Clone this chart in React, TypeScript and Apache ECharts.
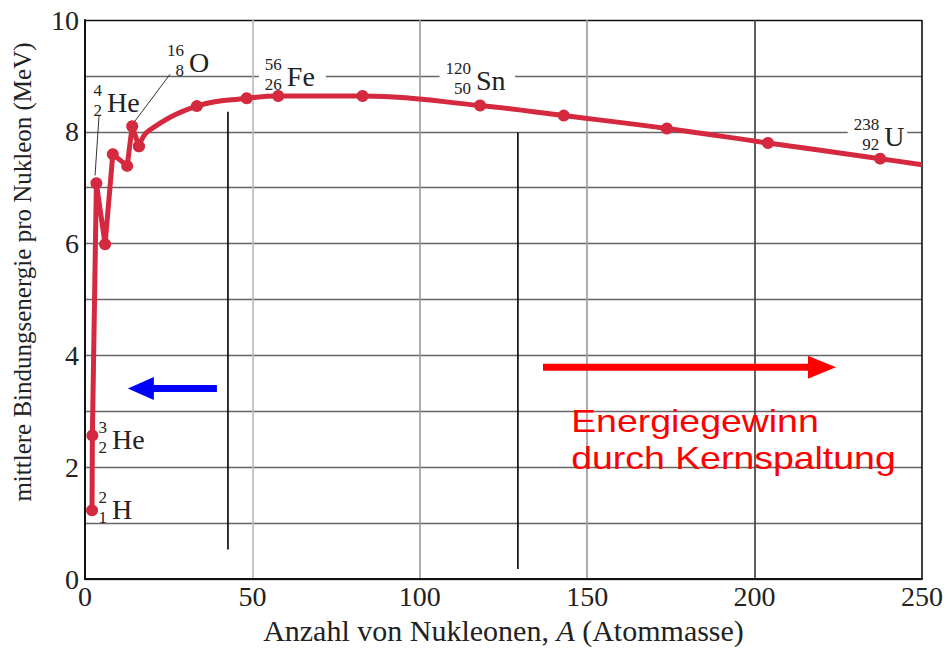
import React, { useEffect, useRef } from "react";
import * as echarts from "echarts";

// ---- data ----
const X_MIN = 0;
const X_MAX = 250;
const X_STEP = 50;
const Y_MIN = 0;
const Y_MAX = 10;
const Y_STEP = 1;

// light nuclei (jagged part of the curve)
const lightA = [2.1, 2.2, 3.4, 6.0, 8.3, 12.6, 14.1, 16.1];
const lightE = [1.23, 2.57, 7.08, 5.99, 7.6, 7.39, 8.1, 7.74];

// heavier nuclei (smooth part of the curve)
const heavyA = [16.1, 19, 33.4, 48.3, 57.7, 82.9, 118, 143, 173.8, 204, 237.5, 250];
const heavyE = [7.74, 8.02, 8.46, 8.6, 8.64, 8.64, 8.47, 8.29, 8.06, 7.8, 7.52, 7.41];
const heavyMarked = [true, false, true, true, true, true, true, true, true, true, true, false];

// nuclide labels
const nucSymbol = ["H", "He", "He", "O", "Fe", "Sn", "U"];
const nucMass = ["2", "3", "4", "16", "56", "120", "238"];
const nucZ = ["1", "2", "2", "8", "26", "50", "92"];
const nucLabelA = [7.2, 7.2, 5.7, 30.2, 59.4, 115.9, 237.8];
const nucLabelE = [1.27, 2.52, 8.54, 9.26, 9.01, 8.94, 7.94];
const nucLabelBg = [false, false, false, false, true, true, true];

// leader lines (4He, 16O)
const leaderFrom = [[4.2, 8.29], [25.4, 9.03]];
const leaderTo = [[3.0, 7.22], [14.9, 8.19]];

// black vertical markers
const markerA = [42.7, 129.3];
const markerBottom = [0.53, 0.18];
const markerTop = [8.36, 7.99];

// arrows
const blueArrowFrom = [39.4, 3.41];
const blueArrowTo = [12.8, 3.41];
const redArrowFrom = [136.8, 3.79];
const redArrowTo = [224.3, 3.79];

const gainText = ["Energiegewinn", "durch Kernspaltung"];
const gainTextPos = [145.2, 2.83];

const yTitle = "mittlere Bindungsenergie pro Nukleon (MeV)";

const CURVE = "#d4293f";
const SERIF = "Liberation Serif";
const SANS = "Liberation Sans";

function arrowPoints(from: number[], to: number[], shaft: number, headLen: number, headW: number) {
  const dx = to[0] - from[0];
  const dy = to[1] - from[1];
  const len = Math.hypot(dx, dy);
  const ux = dx / len, uy = dy / len;
  const nx = -uy, ny = ux;
  const neck = [to[0] - ux * headLen, to[1] - uy * headLen];
  const s = shaft / 2, h = headW / 2;
  return [
    [from[0] + nx * s, from[1] + ny * s],
    [neck[0] + nx * s, neck[1] + ny * s],
    [neck[0] + nx * h, neck[1] + ny * h],
    [to[0], to[1]],
    [neck[0] - nx * h, neck[1] - ny * h],
    [neck[0] - nx * s, neck[1] - ny * s],
    [from[0] - nx * s, from[1] - ny * s],
  ];
}

export default function App() {
  const ref = useRef<HTMLDivElement>(null);

  useEffect(() => {
    if (!ref.current) return;
    const chart = echarts.init(ref.current, undefined, { renderer: "svg" });

    const ySplitColors: string[] = [];
    for (let v = Y_MIN; v <= Y_MAX; v += Y_STEP) {
      ySplitColors.push(v === Y_MAX ? "#111" : "#666");
    }
    const xSplitColors = ["#111", "#b8b8b8", "#9a9a9a", "#9a9a9a", "#3a3a3a", "#111"];

    chart.setOption({
      animation: false,
      backgroundColor: "#ffffff",
      grid: { left: 85, right: 27, top: 20, bottom: 62, containLabel: false },
      xAxis: {
        type: "value",
        min: X_MIN,
        max: X_MAX,
        interval: X_STEP,
        axisLine: { show: true, onZero: false, lineStyle: { color: "#111", width: 2 } },
        axisTick: { show: false },
        axisLabel: { fontFamily: SERIF, fontSize: 28, color: "#222", margin: 3 },
        splitLine: { show: true, lineStyle: { color: xSplitColors, width: 1.6 } },
        name: "Anzahl von Nukleonen, {i|A} (Atommasse)",
        nameLocation: "middle",
        nameGap: 30,
        nameTextStyle: {
          fontFamily: SERIF,
          fontSize: 30,
          color: "#222",
          rich: { i: { fontFamily: SERIF, fontSize: 30, fontStyle: "italic", color: "#222" } },
        },
      },
      yAxis: {
        type: "value",
        min: Y_MIN,
        max: Y_MAX,
        interval: Y_STEP,
        axisLine: { show: true, onZero: false, lineStyle: { color: "#111", width: 2 } },
        axisTick: { show: false },
        axisLabel: {
          fontFamily: SERIF,
          fontSize: 28,
          color: "#222",
          margin: 6,
          formatter: (v: number) => (v % 2 === 0 ? String(v) : ""),
        },
        splitLine: { show: true, lineStyle: { color: ySplitColors, width: 1.3 } },
      },
      series: [
        {
          type: "line",
          name: "light",
          data: lightA.map((a, i) => [a, lightE[i]]),
          smooth: false,
          symbol: "circle",
          symbolSize: 12,
          lineStyle: { color: CURVE, width: 5 },
          itemStyle: { color: CURVE },
          z: 3,
        },
        {
          type: "line",
          name: "heavy",
          data: heavyA.map((a, i) => ({
            value: [a, heavyE[i]],
            symbol: heavyMarked[i] ? "circle" : "none",
          })),
          smooth: 0.4,
          symbol: "circle",
          symbolSize: 12,
          lineStyle: { color: CURVE, width: 5 },
          itemStyle: { color: CURVE },
          z: 3,
        },
      ],
    });

    const px = (a: number, e: number) =>
      chart.convertToPixel({ xAxisIndex: 0, yAxisIndex: 0 }, [a, e]) as number[];

    const graphics: any[] = [];

    // y-axis title
    graphics.push({
      type: "text",
      x: 22,
      y: 272,
      rotation: Math.PI / 2,
      style: {
        text: yTitle,
        font: `25px ${SERIF}`,
        fill: "#222",
        align: "center",
        verticalAlign: "middle",
      },
      z: 10,
    });

    // black vertical markers
    markerA.forEach((a, i) => {
      const p1 = px(a, markerBottom[i]);
      const p2 = px(a, markerTop[i]);
      graphics.push({
        type: "line",
        shape: { x1: p1[0], y1: p1[1], x2: p2[0], y2: p2[1] },
        style: { stroke: "#000", lineWidth: 1.6 },
        z: 5,
      });
    });

    // leader lines
    leaderFrom.forEach((f, i) => {
      const p1 = px(f[0], f[1]);
      const p2 = px(leaderTo[i][0], leaderTo[i][1]);
      graphics.push({
        type: "line",
        shape: { x1: p1[0], y1: p1[1], x2: p2[0], y2: p2[1] },
        style: { stroke: "#333", lineWidth: 1 },
        z: 5,
      });
    });

    // nuclide labels
    nucSymbol.forEach((sym, i) => {
      const p = px(nucLabelA[i], nucLabelE[i]);
      const numW = Math.max(nucMass[i].length, nucZ[i].length) * 8.5;
      const symW = sym.length * 16;
      if (nucLabelBg[i]) {
        graphics.push({
          type: "rect",
          shape: { x: p[0] - numW - 8, y: p[1] - 8, width: numW + symW + 18, height: 15 },
          style: { fill: "#fff" },
          z: 6,
        });
      }
      graphics.push({
        type: "text",
        x: p[0] - 2,
        y: p[1] - 11,
        style: { text: nucMass[i], font: `17px ${SERIF}`, fill: "#222", align: "right", verticalAlign: "middle" },
        z: 7,
      });
      graphics.push({
        type: "text",
        x: p[0] - 2,
        y: p[1] + 9,
        style: { text: nucZ[i], font: `17px ${SERIF}`, fill: "#222", align: "right", verticalAlign: "middle" },
        z: 7,
      });
      graphics.push({
        type: "text",
        x: p[0] + 3,
        y: p[1] + 1,
        style: { text: sym, font: `28px ${SERIF}`, fill: "#222", align: "left", verticalAlign: "middle" },
        z: 7,
      });
    });

    // arrows
    const bf = px(blueArrowFrom[0], blueArrowFrom[1]);
    const bt = px(blueArrowTo[0], blueArrowTo[1]);
    graphics.push({
      type: "polygon",
      shape: { points: arrowPoints(bf, bt, 7, 26, 23) },
      style: { fill: "#0000ff" },
      z: 6,
    });
    const rf = px(redArrowFrom[0], redArrowFrom[1]);
    const rt = px(redArrowTo[0], redArrowTo[1]);
    graphics.push({
      type: "polygon",
      shape: { points: arrowPoints(rf, rt, 7, 28, 23) },
      style: { fill: "#ff0000" },
      z: 6,
    });

    // gain text
    const gp = px(gainTextPos[0], gainTextPos[1]);
    gainText.forEach((t, i) => {
      graphics.push({
        type: "text",
        x: gp[0],
        y: gp[1] + i * 37,
        scaleX: 1.17,
        style: { text: t, font: `32px ${SANS}`, fill: "#ff0000", align: "left", verticalAlign: "middle" },
        z: 7,
      });
    });

    chart.setOption({ graphic: graphics });

    return () => chart.dispose();
  }, []);

  return (
    <div
      ref={ref}
      style={{ position: "absolute", left: 0, top: 0, width: 949, height: 650, background: "#fff" }}
    />
  );
}
